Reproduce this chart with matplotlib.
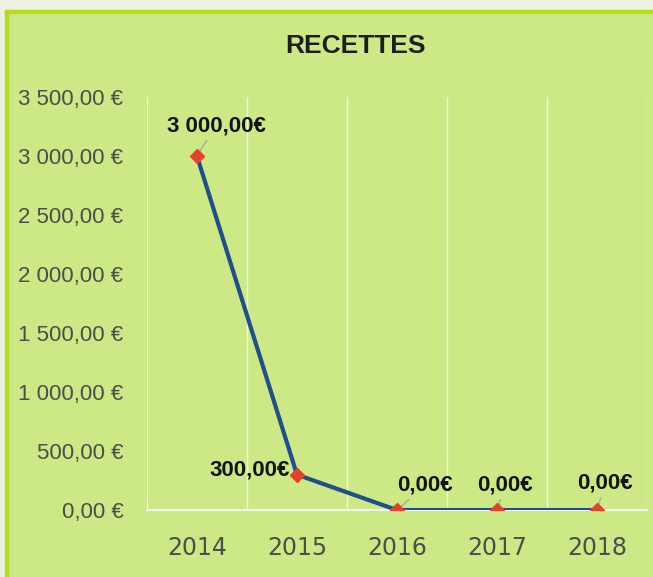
import matplotlib.pyplot as plt
from matplotlib.patches import Rectangle

years = ['2014', '2015', '2016', '2017', '2018']
recettes = [3000, 300, 0, 0, 0]
yticks = [0, 500, 1000, 1500, 2000, 2500, 3000, 3500]


def euro(v):
    s = '{:,.2f}'.format(v).replace(',', ' ').replace('.', ',')
    return s + ' €'


bg = '#cde985'
fig = plt.figure(figsize=(6.53, 5.77), dpi=100, facecolor=bg)
ax = fig.add_axes([0.225, 0.116, 0.766, 0.716])
ax.set_facecolor(bg)

# scan-like border
fig.patches.append(Rectangle((0.0, 0.982), 1.0, 0.018, transform=fig.transFigure,
                             color='#eef1e2', zorder=0))
fig.patches.append(Rectangle((0.0, 0.0), 0.008, 0.982, transform=fig.transFigure,
                             color='#eef1e2', zorder=0))
fig.patches.append(Rectangle((0.008, 0.0), 0.004, 0.982, transform=fig.transFigure,
                             color='#b5dc1e', zorder=0))
fig.patches.append(Rectangle((0.008, 0.977), 0.992, 0.005, transform=fig.transFigure,
                             color='#b5dc1e', zorder=0))

x = list(range(len(years)))
ax.plot(x, recettes, color='#1f4f8c', lw=3, zorder=3)
ax.plot(x, recettes, ls='none', marker='D', ms=7.5, color='#e2432a', zorder=4)

ax.set_xlim(-0.5, len(years) - 0.5)
ax.set_ylim(0, 3500)
ax.set_yticks(yticks)
ax.set_yticklabels([euro(v) for v in yticks], fontsize=16, color='#4d4d4d',
                   family='Liberation Sans')
ax.set_xticks(x)
ax.set_xticklabels(years, fontsize=17, color='#4d4d4d', family='DejaVu Sans')
ax.tick_params(length=0)
ax.tick_params(axis='y', pad=17)
ax.tick_params(axis='x', pad=19)

for b in [i - 0.5 for i in range(len(years) + 1)]:
    ax.axvline(b, color='#f4f4f4', lw=1, zorder=1)
for s in ['top', 'right', 'left']:
    ax.spines[s].set_visible(False)
ax.spines['bottom'].set_color('#f2f2f2')
ax.spines['bottom'].set_linewidth(1.5)

offsets = [(19, 30), (-47, 5), (28, 25), (8, 25), (8, 27)]
for xi, v, off in zip(x, recettes, offsets):
    ax.annotate(euro(v).replace(' €', '€'), (xi, v), xytext=off, textcoords='offset pixels',
                ha='center', va='center', fontsize=16, fontweight='bold', color='#141414',
                family='Liberation Sans',
                arrowprops=dict(arrowstyle='-', color='#a8a8a8', lw=1, shrinkA=1, shrinkB=3)
                if v != 300 else None)

fig.text(0.545, 0.921, 'RECETTES', ha='center', va='center', fontsize=19,
         fontweight='bold', color='#1e1e1e', family='Liberation Sans')

plt.savefig('out.png', dpi=100, facecolor=bg)
